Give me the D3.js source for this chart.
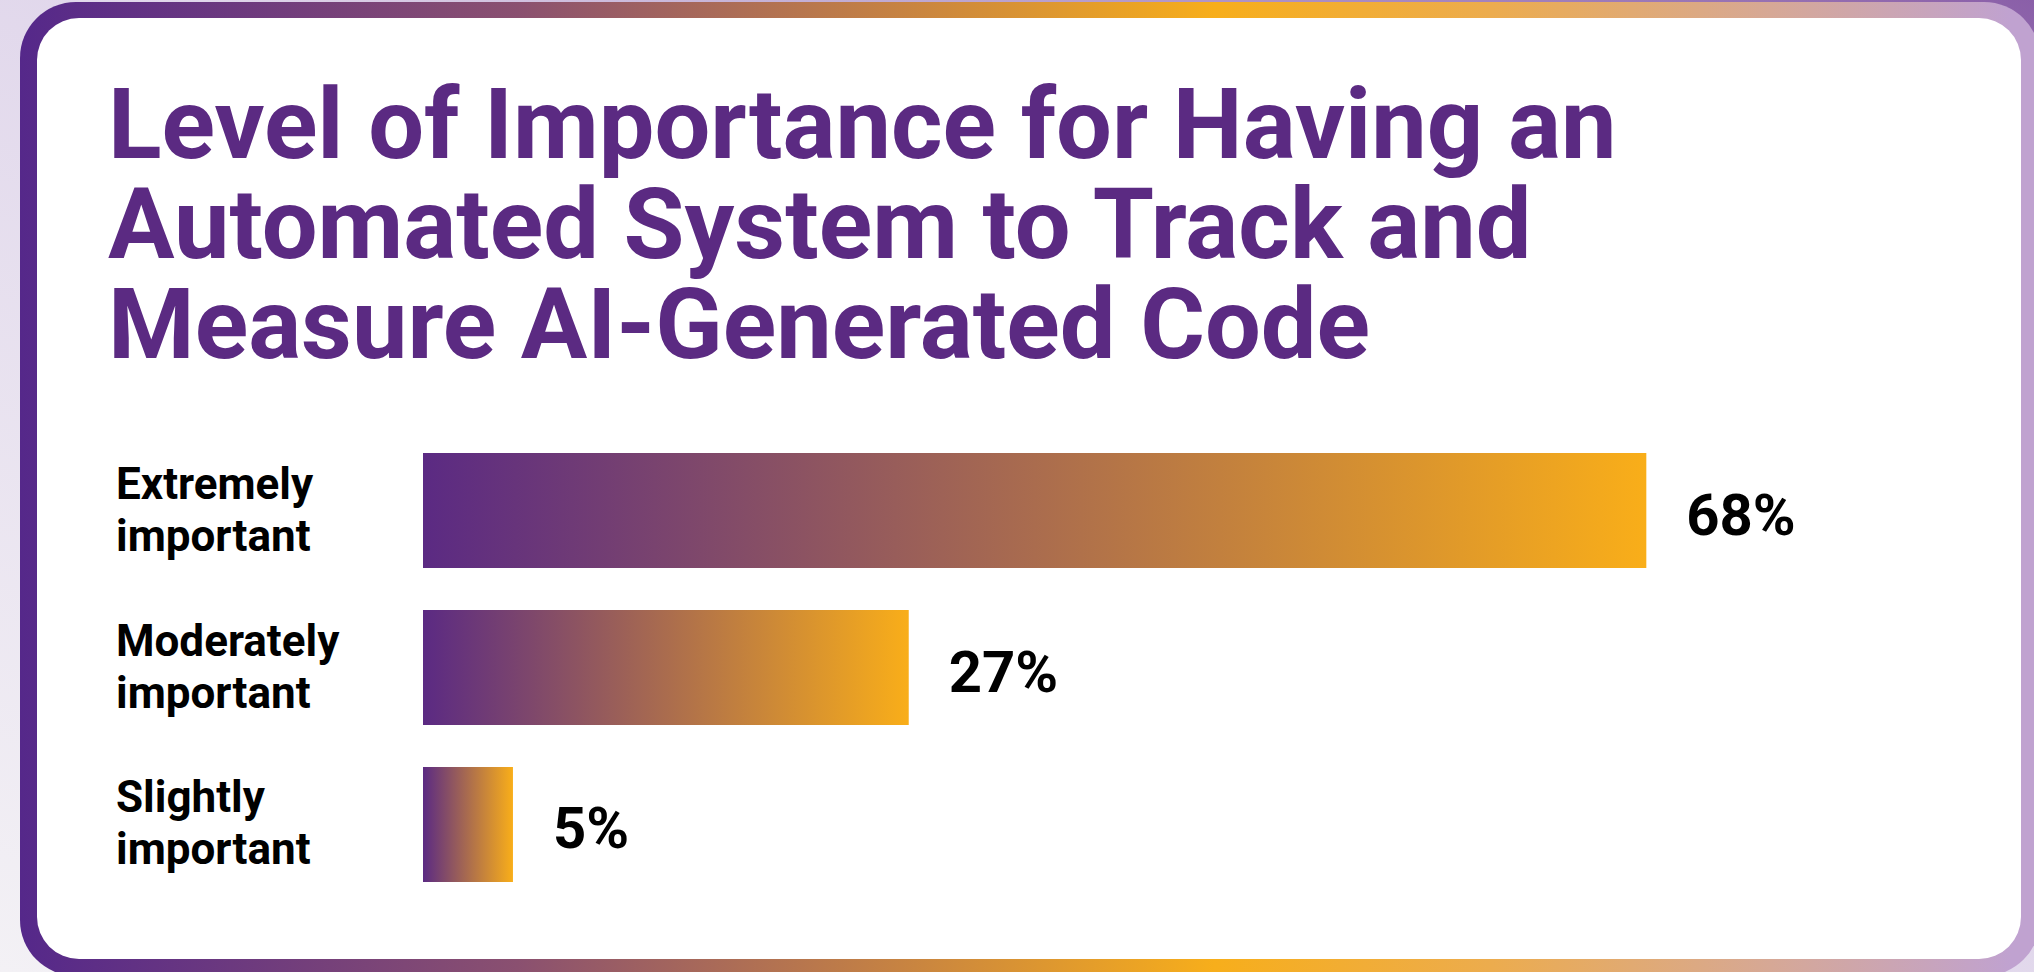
<!DOCTYPE html>
<html>
<head>
<meta charset="utf-8">
<script src="https://cdn.jsdelivr.net/npm/d3@7"></script>
<style>
  html, body { margin: 0; padding: 0; background: #fff; }
  svg { display: block; }
</style>
</head>
<body>
<svg id="chart" width="2034" height="972"></svg>
<script>

// chart data
const titleLines = [
    'Level of Importance for Having an',
    'Automated System to Track and',
    'Measure AI-Generated Code'
];
const categories = [
    ['Extremely', 'important'],
    ['Moderately', 'important'],
    ['Slightly', 'important']
];
const values = [68, 27, 5];

const width = 2034, height = 972;
const svg = d3.select('#chart');
const defs = svg.append('defs');

// page background
const bg = defs.append('linearGradient')
    .attr('id', 'bgGrad')
    .attr('x1', 0).attr('y1', 1).attr('x2', 1).attr('y2', 0);
bg.append('stop').attr('offset', '0%').attr('stop-color', '#f3f1f5');
bg.append('stop').attr('offset', '55%').attr('stop-color', '#e0d6eb');
bg.append('stop').attr('offset', '100%').attr('stop-color', '#8a5fa8');

// card border
const border = defs.append('linearGradient')
    .attr('id', 'borderGrad')
    .attr('gradientUnits', 'userSpaceOnUse')
    .attr('x1', 20).attr('y1', 0).attr('x2', 2010).attr('y2', 0);
[[0, '#55288a'], [0.25, '#8a5070'], [0.45, '#c98540'], [0.6, '#f7ae1b'],
 [0.74, '#ecac4e'], [0.88, '#d6a896'], [1, '#c0a2d0']].forEach(function(s) {
    border.append('stop').attr('offset', s[0]).attr('stop-color', s[1]);
});

// bars
const barGrad = defs.append('linearGradient')
    .attr('id', 'barGrad')
    .attr('x1', 0).attr('y1', 0).attr('x2', 1).attr('y2', 0);
barGrad.append('stop').attr('offset', '0%').attr('stop-color', '#5b2a83');
barGrad.append('stop').attr('offset', '100%').attr('stop-color', '#f9ae19');

svg.append('rect')
    .attr('width', width).attr('height', height)
    .attr('fill', 'url(#bgGrad)');

svg.append('rect')
    .attr('x', 20).attr('y', 2)
    .attr('width', 2020).attr('height', 974)
    .attr('rx', 56)
    .attr('fill', 'url(#borderGrad)');

svg.append('rect')
    .attr('x', 37).attr('y', 18)
    .attr('width', 1984).attr('height', 941)
    .attr('rx', 42)
    .attr('fill', '#fff');

// title
svg.append('g')
    .selectAll('text')
    .data(titleLines)
    .join('text')
    .attr('x', 108)
    .attr('y', function(d, i) { return 158 + i * 100; })
    .style('font-family', 'Roboto, sans-serif')
    .style('font-weight', 700)
    .style('font-size', '99px')
    .attr('fill', '#5b2a82')
    .text(function(d) { return d; });

// scales
const x = d3.scaleLinear().domain([0, 100]).range([423, 423 + 1799]);
const y = d3.scaleBand()
    .domain(d3.range(values.length))
    .range([453, 882])
    .paddingInner(0.2675)
    .paddingOuter(0);

const rows = svg.append('g')
    .selectAll('g')
    .data(values)
    .join('g');

rows.append('rect')
    .attr('x', x(0))
    .attr('y', function(d, i) { return y(i); })
    .attr('width', function(d) { return x(d) - x(0); })
    .attr('height', y.bandwidth())
    .attr('fill', 'url(#barGrad)');

rows.append('text')
    .attr('x', function(d) { return x(d) + 40; })
    .attr('y', function(d, i) { return y(i) + y.bandwidth() / 2 + 24; })
    .style('font-family', 'Roboto, sans-serif')
    .style('font-weight', 700)
    .style('font-size', '58px')
    .attr('fill', '#000')
    .text(function(d) { return d + '%'; });

rows.append('text')
    .attr('x', 116)
    .attr('y', function(d, i) { return y(i) + y.bandwidth() / 2 - 12; })
    .style('font-family', 'Roboto, sans-serif')
    .style('font-weight', 700)
    .style('font-size', '44px')
    .attr('fill', '#000')
    .selectAll('tspan')
    .data(function(d, i) { return categories[i]; })
    .join('tspan')
    .attr('x', 116)
    .attr('dy', function(d, j) { return j ? 52 : 0; })
    .text(function(d) { return d; });

</script>
</body>
</html>
